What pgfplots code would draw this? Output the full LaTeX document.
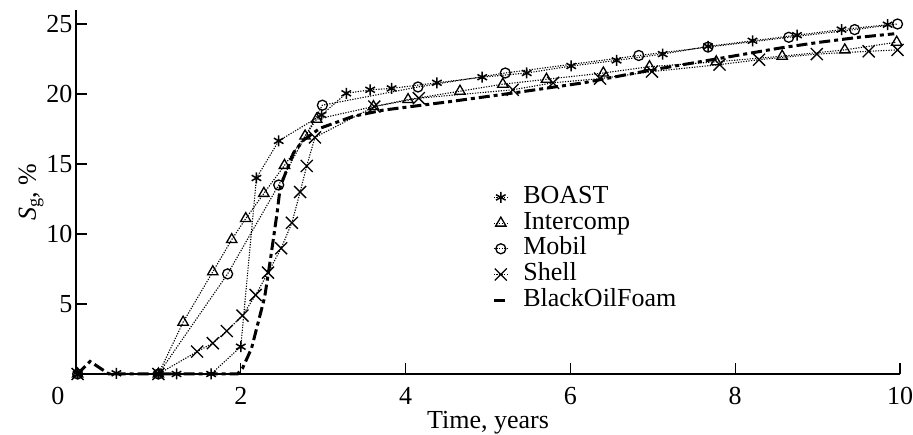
\documentclass[border=0pt]{standalone}
\usepackage{fontspec}
\setmainfont{Liberation Serif}
\usepackage{pgfplots}
\pgfplotsset{compat=1.18}
\begin{document}
\begin{tikzpicture}
\useasboundingbox (-76pt,-61pt) rectangle (837pt,374pt);
\begin{axis}[
  scale only axis, width=824pt, height=364pt,
  xmin=0, xmax=10, ymin=0, ymax=26,
  clip=false,
  axis x line*=bottom, axis y line*=left,
  axis line style={line width=1.4pt},
  tick align=inside, major tick length=11pt,
  tick style={line width=1.2pt, black},
  xtick={2,4,6,8,10}, ytick={5,10,15,20,25},
  extra x ticks={0}, extra x tick labels={0},
  extra x tick style={major tick length=0pt, xticklabel style={xshift=-18pt}},
  /pgf/number format/assume math mode=true,
  tick label style={font=\fontsize{26}{30}\selectfont},
  xticklabel style={yshift=-10pt},
  label style={font=\fontsize{26}{30}\selectfont},
  xlabel={Time, years}, ylabel={\textit{S}\textsubscript{g}, \%},
  xlabel style={yshift=1pt},
  ylabel style={yshift=-4pt},
  legend cell align=left,
  legend style={draw=none, fill=none, at={(0.505,0.521)}, anchor=north west,
    font=\fontsize{26}{30}\selectfont, inner sep=0pt, row sep=0pt,
    nodes={inner sep=0pt, text height=19pt, text depth=6.7pt}},
  legend image code/.code={%
    \draw[mark repeat=2, mark phase=2, #1] plot coordinates {(0pt,0pt) (7pt,0pt) (14pt,0pt)};
    \path (0pt,0pt) (28pt,0pt);},
  every axis plot/.append style={line width=1.1pt, dash pattern=on 1.2pt off 1.4pt, mark options={solid}},
]
% BOAST
\addplot[black, mark=asterisk, mark size=5.5pt, mark options={solid, line width=1.5pt}] coordinates {
(0.02,0) (0.49,0.05) (1.0,0) (1.22,0) (1.64,0) (2.0,1.95) (2.19,14.0) (2.46,16.65)
(2.98,18.5) (3.28,20.05) (3.57,20.3) (3.83,20.4) (4.38,20.8) (4.93,21.2) (5.47,21.5)
(6.01,22.0) (6.56,22.4) (7.12,22.85) (7.67,23.4) (8.21,23.8) (8.75,24.2) (9.29,24.6) (9.85,24.95)};
\addlegendentry{BOAST}
% Intercomp
\addplot[black, mark=triangle, mark size=6pt, mark options={solid, line width=1.3pt}] coordinates {
(0.02,0) (1.0,0) (1.30,3.7) (1.66,7.3) (1.89,9.6) (2.06,11.1) (2.28,12.9) (2.53,14.9)
(2.78,17.0) (2.92,18.2) (3.61,19.1) (4.03,19.6) (4.66,20.2) (5.18,20.7) (5.71,21.05)
(6.40,21.5) (6.96,21.95) (7.77,22.3) (8.57,22.7) (9.33,23.15) (9.96,23.7)};
\addlegendentry{Intercomp}
% Mobil
\addplot[black, mark=o, mark size=5pt, mark options={solid, line width=1.3pt}] coordinates {
(0.02,0) (1.0,0) (1.84,7.15) (2.46,13.5) (2.99,19.2) (4.15,20.5) (5.21,21.5)
(6.83,22.75) (7.67,23.35) (8.65,24.05) (9.45,24.6) (9.97,25.0)};
\addlegendentry{Mobil}
% Shell
\addplot[black, mark=x, mark size=8.5pt, mark options={solid, line width=1.3pt}] coordinates {
(0.02,0) (1.0,0) (1.47,1.6) (1.66,2.2) (1.83,3.07) (2.02,4.17) (2.18,5.64) (2.33,7.24)
(2.49,8.98) (2.62,10.8) (2.72,13.0) (2.80,14.86) (2.90,16.9) (3.62,19.1) (4.16,19.7)
(5.30,20.3) (5.79,20.8) (6.36,21.1) (6.99,21.6) (7.81,22.1) (8.29,22.45) (8.99,22.85)
(9.62,23.05) (9.97,23.15)};
\addlegendentry{Shell}
% BlackOilFoam
\addplot[black, no marks, line width=3pt, dash pattern=on 11pt off 4pt on 4pt off 4pt] coordinates {
(0.02,0) (0.17,0.9) (0.4,0) (1.0,0) (1.96,0) (2.02,0.4) (2.13,1.83) (2.29,5.5) (2.37,8.6)
(2.44,11.5) (2.48,13.4) (2.64,15.8) (2.76,16.7) (2.96,17.55) (3.36,18.4) (3.73,18.85)
(4.53,19.45) (5.34,20.1) (6.16,20.8) (6.97,21.7) (7.77,22.5) (8.56,23.3) (9.03,23.7)
(9.5,24.05) (9.93,24.3)};
\addlegendentry{BlackOilFoam}
\end{axis}
\end{tikzpicture}
\end{document}
